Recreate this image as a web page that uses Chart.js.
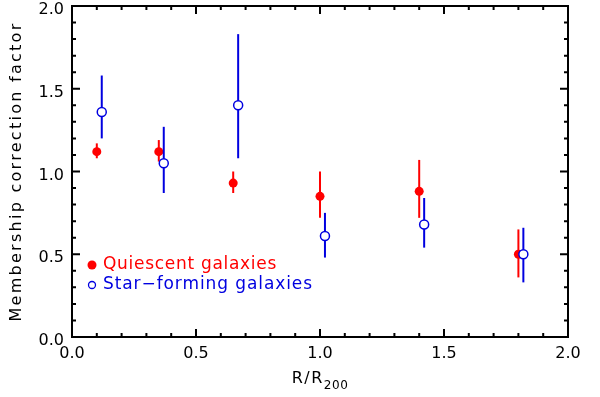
<!DOCTYPE html>
<html>
<head>
<meta charset="utf-8">
<script src="https://cdn.jsdelivr.net/npm/chart.js@4/dist/chart.umd.min.js"></script>
<style>
  html, body { margin: 0; padding: 0; background: #fff; }
  #wrap { width: 600px; height: 397px; position: relative; }
</style>
</head>
<body>
<div id="wrap"><canvas id="c"></canvas></div>
<script>
// ---- Data ----
const quiescentR      = [0.10, 0.35, 0.65, 1.00, 1.40, 1.80];
const quiescentFactor = [1.12, 1.12, 0.93, 0.85, 0.88, 0.50];
const quiescentLow    = [1.08, 1.06, 0.87, 0.72, 0.72, 0.36];
const quiescentHigh   = [1.17, 1.19, 1.00, 1.00, 1.07, 0.65];

const starFormingR      = [0.12, 0.37, 0.67, 1.02, 1.42, 1.82];
const starFormingFactor = [1.36, 1.05, 1.40, 0.61, 0.68, 0.50];
const starFormingLow    = [1.20, 0.87, 1.08, 0.48, 0.54, 0.33];
const starFormingHigh   = [1.58, 1.27, 1.83, 0.75, 0.84, 0.66];

const seriesNames = ['Quiescent galaxies', 'Star\u2212forming galaxies'];
const xTickLabels = ['0.0', '0.5', '1.0', '1.5', '2.0'];
const yTickLabels = ['0.0', '0.5', '1.0', '1.5', '2.0'];
const yAxisTitle = 'Membership correction factor';
const xAxisTitleMain = 'R/R';
const xAxisTitleSub = '200';

const RED = '#ff0000';
const BLUE = '#0000e0';
const FONT = '"DejaVu Sans", sans-serif';

const toPoints = (xs, ys) => xs.map((x, i) => ({ x: x, y: ys[i] }));

const errorBars = [
  { low: quiescentLow, high: quiescentHigh, xs: quiescentR, color: RED },
  { low: starFormingLow, high: starFormingHigh, xs: starFormingR, color: BLUE }
];

const errorBarPlugin = {
  id: 'errorBars',
  beforeDatasetDraw(chart, args) {
    const eb = errorBars[args.index];
    if (!eb) return;
    const ctx = chart.ctx, xs = chart.scales.x, ys = chart.scales.y;
    ctx.save();
    ctx.strokeStyle = eb.color;
    ctx.lineWidth = 2;
    for (let i = 0; i < eb.xs.length; i++) {
      const px = xs.getPixelForValue(eb.xs[i]);
      ctx.beginPath();
      ctx.moveTo(px, ys.getPixelForValue(eb.low[i]));
      ctx.lineTo(px, ys.getPixelForValue(eb.high[i]));
      ctx.stroke();
    }
    ctx.restore();
  }
};

function fitText(ctx, text, target) {
  ctx.letterSpacing = '0px';
  const w = ctx.measureText(text).width;
  const sp = Math.max(0, (target - w) / text.length);
  ctx.letterSpacing = sp + 'px';
}

const framePlugin = {
  id: 'frameTicks',
  afterDraw(chart) {
    const ctx = chart.ctx, a = chart.chartArea;
    const xs = chart.scales.x, ys = chart.scales.y;
    ctx.save();
    ctx.strokeStyle = '#000';
    ctx.lineWidth = 2;
    ctx.strokeRect(a.left, a.top, a.right - a.left, a.bottom - a.top);
    for (let i = 0; i <= 20; i++) {
      const v = i / 10;
      const major = (i % 5 === 0);
      const len = major ? 8 : 4;
      const px = xs.getPixelForValue(v);
      const py = ys.getPixelForValue(v);
      ctx.beginPath();
      ctx.moveTo(px, a.bottom); ctx.lineTo(px, a.bottom - len);
      ctx.moveTo(px, a.top); ctx.lineTo(px, a.top + len);
      ctx.moveTo(a.left, py); ctx.lineTo(a.left + len, py);
      ctx.moveTo(a.right, py); ctx.lineTo(a.right - len, py);
      ctx.stroke();
    }
    // Legend
    ctx.fillStyle = RED;
    ctx.beginPath(); ctx.arc(92, 265, 4.5, 0, Math.PI * 2); ctx.fill();
    ctx.strokeStyle = BLUE; ctx.lineWidth = 1.3; ctx.fillStyle = '#fff';
    ctx.beginPath(); ctx.arc(92, 285, 3.5, 0, Math.PI * 2); ctx.fill(); ctx.stroke();
    ctx.font = '17px ' + FONT;
    ctx.textBaseline = 'middle';
    ctx.textAlign = 'left';
    ctx.fillStyle = RED;
    fitText(ctx, seriesNames[0], 174);
    ctx.fillText(seriesNames[0], 103, 265);
    ctx.fillStyle = BLUE;
    fitText(ctx, seriesNames[1], 210);
    ctx.fillText(seriesNames[1], 103, 285);
    // Y title
    ctx.fillStyle = '#000';
    ctx.font = '16px ' + FONT;
    ctx.save();
    ctx.translate(17, (a.top + a.bottom) / 2);
    ctx.rotate(-Math.PI / 2);
    ctx.textAlign = 'center';
    fitText(ctx, yAxisTitle, 300);
    ctx.fillText(yAxisTitle, 0, 0);
    ctx.restore();
    // X title with subscript
    ctx.textBaseline = 'alphabetic';
    ctx.textAlign = 'left';
    ctx.font = '16px ' + FONT;
    ctx.letterSpacing = '1.5px';
    const wMain = ctx.measureText(xAxisTitleMain).width;
    ctx.font = '12px ' + FONT;
    ctx.letterSpacing = '0.5px';
    const wSub = ctx.measureText(xAxisTitleSub).width;
    const cx = (a.left + a.right) / 2;
    const x0 = cx - (wMain + wSub) / 2;
    ctx.font = '16px ' + FONT;
    ctx.letterSpacing = '1.5px';
    ctx.fillText(xAxisTitleMain, x0, 383);
    ctx.font = '12px ' + FONT;
    ctx.letterSpacing = '0.5px';
    ctx.fillText(xAxisTitleSub, x0 + wMain, 389);
    ctx.letterSpacing = '0px';
    ctx.restore();
  }
};

new Chart(document.getElementById('c'), {
  type: 'scatter',
  data: {
    datasets: [
      {
        label: seriesNames[0],
        data: toPoints(quiescentR, quiescentFactor),
        pointStyle: 'circle',
        pointRadius: 4.5,
        pointBackgroundColor: RED,
        pointBorderColor: RED,
        pointBorderWidth: 0,
        order: 2
      },
      {
        label: seriesNames[1],
        data: toPoints(starFormingR, starFormingFactor),
        pointStyle: 'circle',
        pointRadius: 4.5,
        pointBackgroundColor: '#fff',
        pointBorderColor: BLUE,
        pointBorderWidth: 1.5,
        order: 1
      }
    ]
  },
  options: {
    responsive: true,
    maintainAspectRatio: false,
    animation: false,
    events: [],
    layout: { padding: { top: 5, right: 32, left: 0, bottom: 0 } },
    plugins: {
      legend: { display: false },
      tooltip: { enabled: false }
    },
    scales: {
      x: {
        type: 'linear', min: 0, max: 2,
        afterFit(s) { s.height = 60; s.paddingLeft = 0; s.paddingRight = 0; },
        grid: { display: false, drawTicks: false },
        border: { display: false },
        ticks: {
          stepSize: 0.5, padding: 7, color: '#000',
          font: { family: FONT, size: 16 },
          callback: (v) => xTickLabels[Math.round(v * 2)]
        }
      },
      y: {
        type: 'linear', min: 0, max: 2,
        afterFit(s) { s.width = 72; s.paddingTop = 0; s.paddingBottom = 0; },
        grid: { display: false, drawTicks: false },
        border: { display: false },
        ticks: {
          stepSize: 0.5, padding: 8, color: '#000', labelOffset: 4,
          font: { family: FONT, size: 16 },
          callback: (v) => yTickLabels[Math.round(v * 2)]
        }
      }
    }
  },
  plugins: [errorBarPlugin, framePlugin]
});
</script>
</body>
</html>
